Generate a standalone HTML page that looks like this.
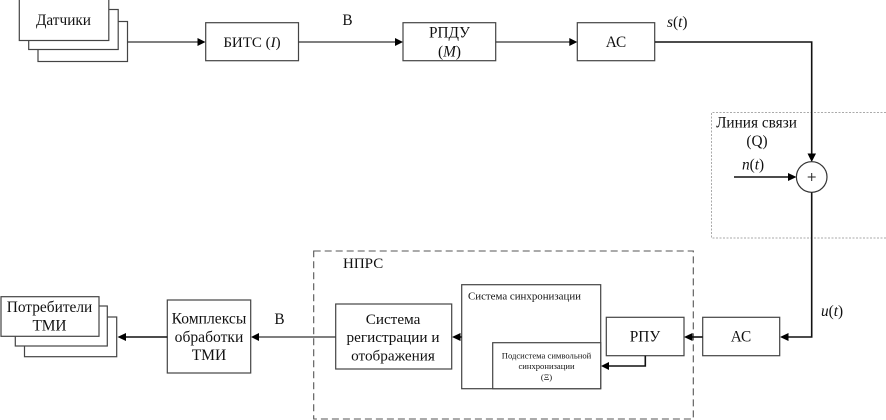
<!DOCTYPE html>
<html><head><meta charset="utf-8"><style>
html,body{margin:0;padding:0;background:#fff}
svg{display:block;font-family:"Liberation Serif","Noto Serif CJK SC",serif;filter:blur(.35px)}
text{fill:#111}
.b{fill:#fff;stroke:#444;stroke-width:1.2}
.l{fill:none;stroke:#333;stroke-width:1.2}
.k{fill:none;stroke:#111;stroke-width:1.6}
.a{fill:#000;stroke:none}
.c{text-anchor:middle}
</style></head><body>
<svg width="886" height="420" viewBox="0 0 886 420" xmlns="http://www.w3.org/2000/svg">
<rect width="886" height="420" fill="#fff"/>

<!-- dotted / dashed regions -->
<path d="M886 112.5H711.5V238H886" fill="none" stroke="#aaa" stroke-width="1" stroke-dasharray="2 1.5"/>
<rect x="313.7" y="251" width="379.6" height="168" fill="none" stroke="#555" stroke-width="1.1" stroke-dasharray="7 4"/>

<!-- Датчики stack -->
<rect class="b" x="38" y="21.5" width="89.5" height="40"/>
<rect class="b" x="28.7" y="9.5" width="89.5" height="40"/>
<rect class="b" x="19.3" y="-1" width="89.5" height="41.5"/>
<text class="c" x="63.5" y="25" font-size="15.3">Датчики</text>

<!-- top row -->
<rect class="b" x="205.7" y="22.7" width="92.8" height="38"/>
<text class="c" x="252" y="47" font-size="15">БИТС (<tspan font-style="italic">I</tspan>)</text>
<rect class="b" x="403" y="22.7" width="92.7" height="38"/>
<text class="c" x="449.5" y="37.5" font-size="15.3">РПДУ</text>
<text class="c" x="449.5" y="56.5" font-size="15.3">(<tspan font-style="italic">M</tspan>)</text>
<rect class="b" x="577.3" y="22.7" width="77.4" height="38"/>
<text class="c" x="616" y="47" font-size="15.3">АС</text>
<text class="c" x="347.5" y="25" font-size="15.3">В</text>
<text x="667" y="27" font-size="15.3"><tspan font-style="italic">s</tspan>(<tspan font-style="italic">t</tspan>)</text>

<path class="l" d="M127.5 42H198"/><path class="a" d="M205.5 42L197.5 38V46Z"/>
<path class="l" d="M298.5 42H396"/><path class="a" d="M403 42L395 38V46Z"/>
<path class="l" d="M495.7 42H570"/><path class="a" d="M577.3 42L569.3 38V46Z"/>
<path class="k" d="M655 42H811.7V156"/><path class="a" d="M811.7 162L807.5 153.5H816Z"/>

<!-- Линия связи -->
<text class="c" x="756.5" y="127.5" font-size="15.3">Линия связи</text>
<text class="c" x="757" y="146" font-size="15.3">(Q)</text>
<text class="c" x="753" y="169.5" font-size="15.3"><tspan font-style="italic">n</tspan>(<tspan font-style="italic">t</tspan>)</text>
<path class="k" d="M734 177H790"/><path class="a" d="M796.5 177L788 173V181Z"/>
<circle cx="811.7" cy="177" r="15.3" fill="#fff" stroke="#333" stroke-width="1.2"/>
<path d="M807.7 177H815.7M811.7 173V181" stroke="#222" stroke-width="1" fill="none"/>
<path class="k" d="M811.7 192.5V337H787"/><path class="a" d="M780 337L788.5 333V341Z"/>
<text x="821" y="316" font-size="15.3"><tspan font-style="italic">u</tspan>(<tspan font-style="italic">t</tspan>)</text>

<!-- bottom right -->
<rect class="b" x="702.7" y="317.3" width="77" height="38.4"/>
<text class="c" x="741" y="341.5" font-size="15.3">АС</text>
<rect class="b" x="606.3" y="317.3" width="77.7" height="38.4"/>
<text class="c" x="645" y="341.5" font-size="15.3">РПУ</text>
<path class="k" d="M702.7 337H690"/><path class="a" d="M684 337L692.5 333V341Z"/>
<path class="k" d="M645.3 355.7V366H607"/><path class="a" d="M601 366L609 362V370Z"/>

<!-- НПРС -->
<text x="343" y="268" font-size="15">НПРС</text>
<rect class="b" x="461.7" y="284.7" width="139" height="104"/>
<text x="468" y="299.5" font-size="10.9">Система синхронизации</text>
<rect class="b" x="492.7" y="342.7" width="108" height="46"/>
<text class="c" x="546.5" y="358.5" font-size="8.6">Подсистема символьной</text>
<text class="c" x="546.5" y="369" font-size="8.6">синхронизации</text>
<text class="c" x="546.5" y="380" font-size="8.6">(Ξ)</text>
<rect class="b" x="335.7" y="304" width="116" height="65"/>
<text class="c" x="393" y="324" font-size="15.2">Система</text>
<text class="c" x="393" y="342" font-size="15.2">регистрации и</text>
<text class="c" x="393" y="360.5" font-size="15.2">отображения</text>
<path class="k" d="M461.7 337H458"/><path class="a" d="M452 337L460.5 333V341Z"/>
<path class="l" d="M335.7 337H257"/><path class="a" d="M251 337L259 333V341Z"/>
<text class="c" x="279.5" y="324" font-size="15.3">В</text>

<!-- Комплексы -->
<rect class="b" x="167.3" y="300" width="83.4" height="73"/>
<text class="c" x="209" y="323.5" font-size="15.6">Комплексы</text>
<text class="c" x="209" y="342" font-size="15.6">обработки</text>
<text class="c" x="209" y="360" font-size="15.6">ТМИ</text>
<path class="k" d="M167.3 337H124"/><path class="a" d="M117.5 337L126 333V341Z"/>

<!-- Потребители -->
<rect class="b" x="24.5" y="317" width="92.2" height="39.7"/>
<rect class="b" x="15.3" y="306" width="92" height="40"/>
<rect class="b" x="1" y="296.7" width="98" height="39.6"/>
<text class="c" x="49.5" y="312" font-size="15.4">Потребители</text>
<text class="c" x="49.5" y="330.5" font-size="15.4">ТМИ</text>
</svg>
</body></html>
